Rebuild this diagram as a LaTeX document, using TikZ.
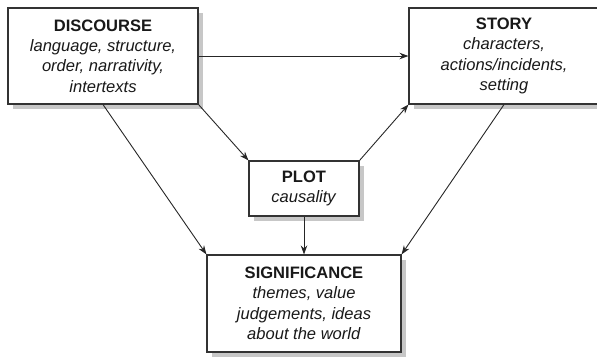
\documentclass[tikz,border=0pt]{standalone}
\usepackage{fontspec}
\setmainfont{Liberation Sans}
\usetikzlibrary{arrows.meta, shadows}

\begin{document}
\begin{tikzpicture}[x=1bp, y=-1bp,
    box/.style={draw=black!80, line width=1.1bp, fill=white, align=center,
      inner sep=0pt, text=black!90, font=\fontsize{16.6}{20.5}\selectfont,
      drop shadow={shadow xshift=5bp, shadow yshift=-5bp, fill=black!22, opacity=1}},
    link/.style={draw=black!85, line width=0.9bp, -{Stealth[length=9bp, width=6.5bp]}}]
  % Frame
  \useasboundingbox (0,0) rectangle (597,358);

  % Top row
  \node[box, minimum width=190bp, minimum height=96bp] (discourse) at (103,56)
    {\textbf{DISCOURSE}\\ \textit{language, structure,}\\ \textit{order, narrativity,}\\ \textit{intertexts}};
  \node[box, minimum width=190bp, minimum height=96bp] (story) at (504,56)
    {\textbf{STORY}\\ \textit{characters,}\\ \textit{actions/incidents,}\\ \textit{setting}};

  % Middle
  \node[box, minimum width=110bp, minimum height=55bp] (plot) at (304,188.5)
    {\textbf{PLOT}\\ \textit{causality}};

  % Bottom
  \node[box, minimum width=194bp, minimum height=97bp] (significance) at (304,303.5)
    {\textbf{SIGNIFICANCE}\\ \textit{themes, value}\\ \textit{judgements, ideas}\\ \textit{about the world}};

  % Connectors
  \draw[link] (discourse) -- (story);
  \draw[link] (discourse.south) -- (significance.north west);
  \draw[link] (discourse.south east) -- (plot.north west);
  \draw[link] (plot.north east) -- (story.south west);
  \draw[link] (plot) -- (significance);
  \draw[link] (story.south) -- (significance.north east);
\end{tikzpicture}
\end{document}
